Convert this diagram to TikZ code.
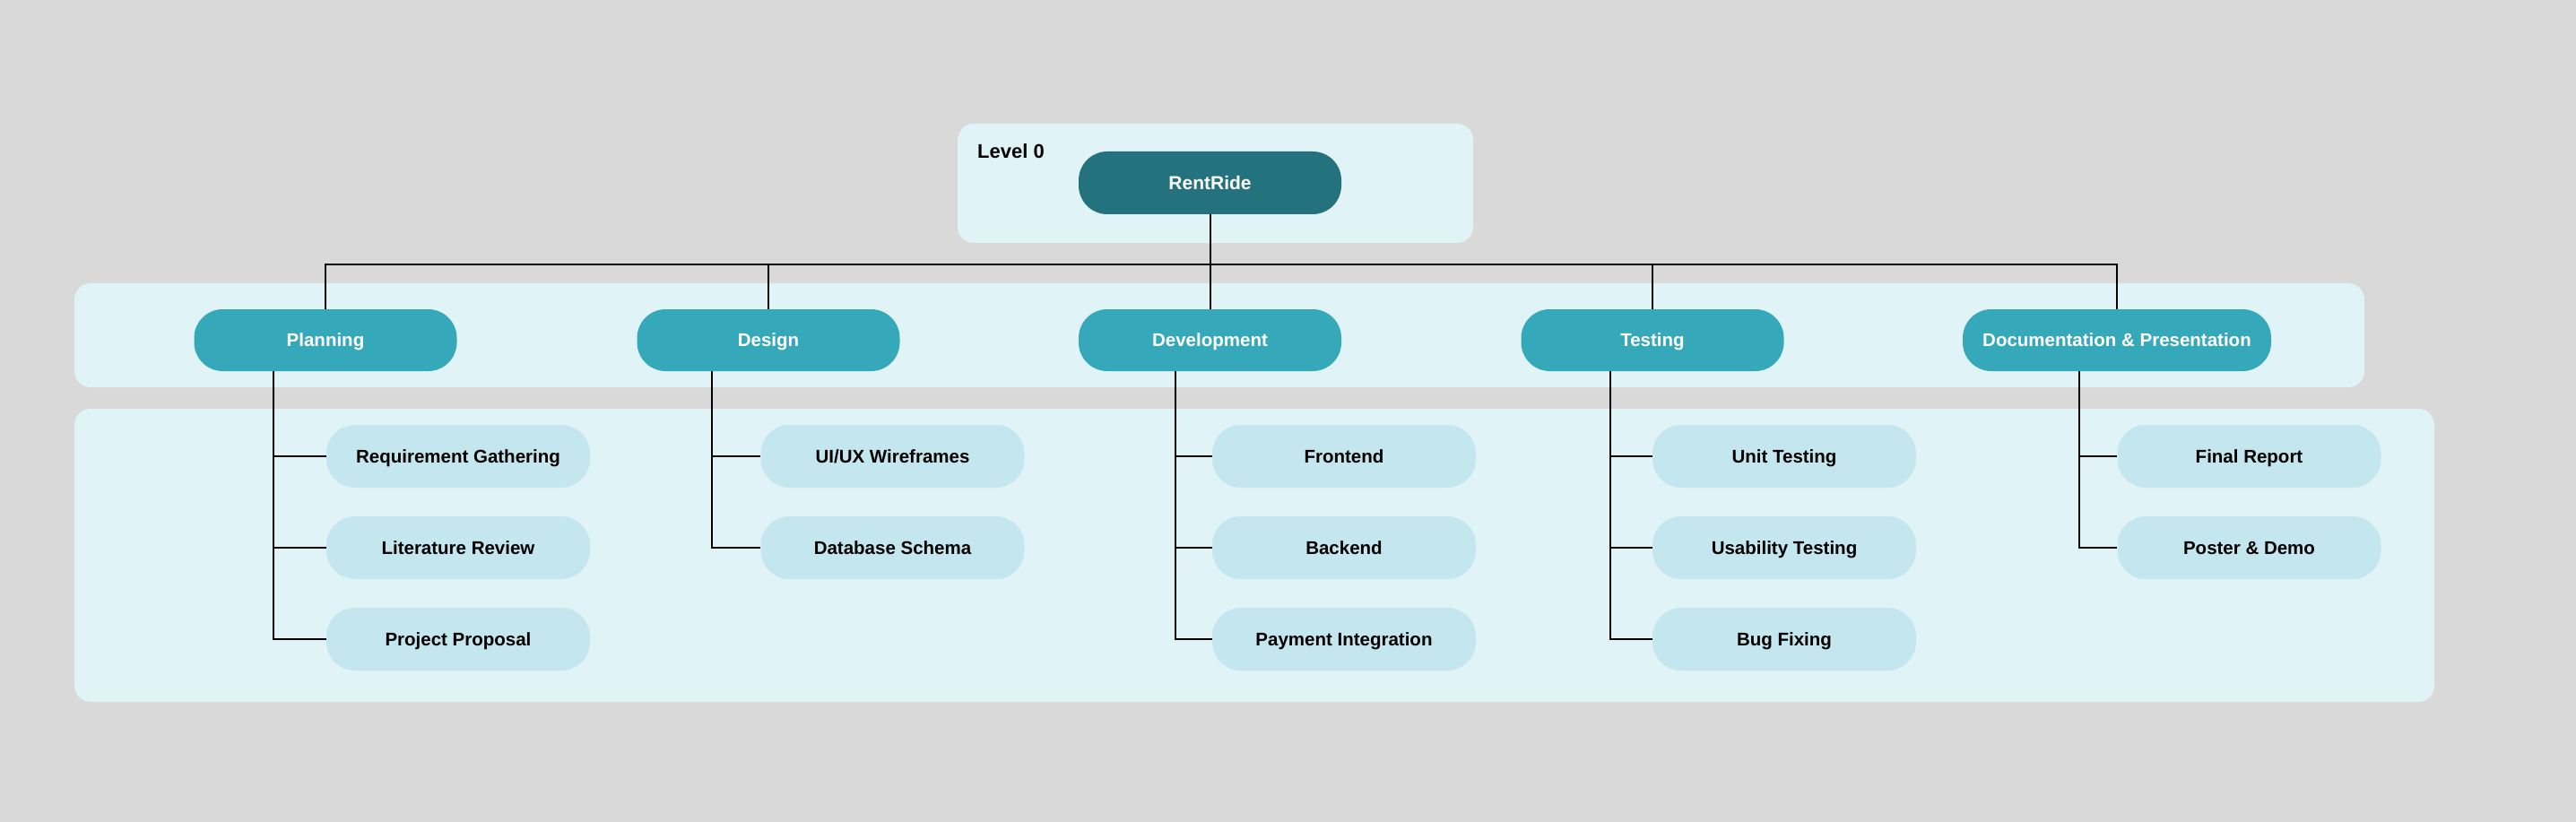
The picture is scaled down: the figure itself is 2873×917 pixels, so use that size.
\documentclass[tikz,border=0pt]{standalone}
\usepackage{fontspec}
\setmainfont{Liberation Sans}
\definecolor{bgc}{HTML}{D9D9D9}
\definecolor{bandc}{HTML}{E0F3F7}
\definecolor{rootc}{HTML}{23727E}
\definecolor{lvlc}{HTML}{35A9BA}
\definecolor{kidc}{HTML}{C4E6EE}
\tikzset{
  band/.style={fill=bandc, rounded corners=18pt},
  rootbox/.style={fill=rootc, text=white, rounded corners=32pt, minimum width=293pt, minimum height=70pt, inner sep=0pt, text height=15pt, text depth=0pt, font=\fontsize{21}{24}\selectfont\bfseries},
  lvlbox/.style={fill=lvlc, text=white, rounded corners=32pt, minimum width=293pt, minimum height=69pt, inner sep=0pt, text height=14.6pt, text depth=0pt, font=\fontsize{20.5}{24}\selectfont\bfseries},
  kidbox/.style={fill=kidc, text=black, rounded corners=32pt, minimum width=294pt, minimum height=70pt, inner sep=0pt, text height=14.6pt, text depth=0pt, font=\fontsize{20.5}{24}\selectfont\bfseries},
  link/.style={draw=black, line width=2pt},
}
\begin{document}
\begin{tikzpicture}[x=1pt,y=-1pt]
\fill[bgc] (0,0) rectangle (2873,917);
\useasboundingbox (0,0) rectangle (2873,917);
% bands
\fill[band] (1068,138) rectangle (1643,271);
\fill[band] (83,316) rectangle (2637,432);
\fill[band] (83,456) rectangle (2715,783);
\node[anchor=base west, font=\fontsize{22}{24}\selectfont\bfseries, inner sep=0pt] (lvl0) at (1090,177) {Level 0};
% root
\node[rootbox] (rr) at (1349.5,204) {RentRide};
% level 1
\node[lvlbox] (pl) at (363,379.5) {Planning};
\node[lvlbox] (de) at (857,379.5) {Design};
\node[lvlbox] (dv) at (1349.5,379.5) {Development};
\node[lvlbox] (te) at (1843,379.5) {Testing};
\node[lvlbox, minimum width=344pt] (dc) at (2361,379.5) {Documentation \& Presentation};
% level 2
\node[kidbox] (rg) at (511,509) {Requirement Gathering};
\node[kidbox] (lr) at (511,611) {Literature Review};
\node[kidbox] (pp) at (511,713) {Project Proposal};
\node[kidbox] (ux) at (995.5,509) {UI/UX Wireframes};
\node[kidbox] (db) at (995.5,611) {Database Schema};
\node[kidbox] (fe) at (1499,509) {Frontend};
\node[kidbox] (be) at (1499,611) {Backend};
\node[kidbox] (pi) at (1499,713) {Payment Integration};
\node[kidbox] (ut) at (1990,509) {Unit Testing};
\node[kidbox] (us) at (1990,611) {Usability Testing};
\node[kidbox] (bf) at (1990,713) {Bug Fixing};
\node[kidbox] (fr) at (2508.5,509) {Final Report};
\node[kidbox] (pd) at (2508.5,611) {Poster \& Demo};
% bus
\coordinate (bus) at (0,295);
\draw[link] (rr.south) -- (rr.south |- bus);
\draw[link] (pl.north) |- (dc.north |- bus) -- (dc.north);
\draw[link] (de.north) -- (de.north |- bus);
\draw[link] (dv.north) -- (dv.north |- bus);
\draw[link] (te.north) -- (te.north |- bus);
% spines
\coordinate (sp1) at (304.5,0);
\coordinate (sp2) at (794,0);
\coordinate (sp3) at (1311,0);
\coordinate (sp4) at (1796,0);
\coordinate (sp5) at (2319,0);
\draw[link] (sp1 |- pl.south) -- (sp1 |- pp.west) -- (pp.west);
\draw[link] (sp1 |- rg.west) -- (rg.west);
\draw[link] (sp1 |- lr.west) -- (lr.west);
\draw[link] (sp2 |- de.south) -- (sp2 |- db.west) -- (db.west);
\draw[link] (sp2 |- ux.west) -- (ux.west);
\draw[link] (sp3 |- dv.south) -- (sp3 |- pi.west) -- (pi.west);
\draw[link] (sp3 |- fe.west) -- (fe.west);
\draw[link] (sp3 |- be.west) -- (be.west);
\draw[link] (sp4 |- te.south) -- (sp4 |- bf.west) -- (bf.west);
\draw[link] (sp4 |- ut.west) -- (ut.west);
\draw[link] (sp4 |- us.west) -- (us.west);
\draw[link] (sp5 |- dc.south) -- (sp5 |- pd.west) -- (pd.west);
\draw[link] (sp5 |- fr.west) -- (fr.west);
\end{tikzpicture}
\end{document}
